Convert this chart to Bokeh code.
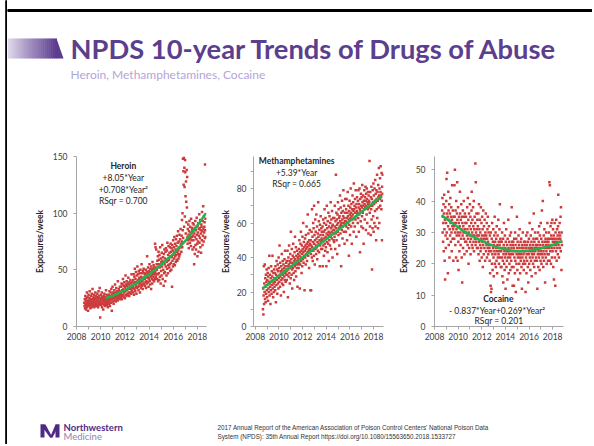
from bokeh.plotting import figure
from bokeh.layouts import row, column
from bokeh.models import Range1d, Label, FixedTicker, ColumnDataSource, Spacer
from bokeh.embed import file_html
from bokeh.resources import INLINE

# ---------------- data ----------------
START_YEAR = 2008.65
WEEK = 1 / 52

heroin = [
    21, 18, 24, 16, 27, 20, 23, 15, 19, 25, 22, 30, 17, 21, 26, 19, 14, 23, 28, 20, 22, 18, 25, 31, 19, 23, 16, 21, 27, 24, 20, 17, 29, 22, 19, 33, 24, 21, 18, 26, 23, 20, 28, 17, 22, 25, 19, 30, 24, 21, 27, 18,
    23, 20, 26, 18, 29, 22, 25, 17, 24, 31, 21, 19, 27, 23, 34, 20, 8, 25, 22, 28, 19, 24, 21, 30, 17, 26, 23, 20, 25, 15, 22, 27, 24, 19, 29, 21, 23, 26, 18, 25, 22, 32, 20, 24, 28, 21, 19, 26, 23, 17, 25, 22,
    25, 22, 28, 20, 31, 24, 18, 27, 23, 30, 26, 21, 33, 25, 14, 28, 24, 35, 22, 27, 30, 25, 20, 29, 26, 32, 23, 28, 37, 25, 30, 22, 27, 34, 26, 29, 24, 31, 28, 23, 40, 27, 30, 25, 33, 29, 26, 31, 24, 35, 28, 30,
    30, 26, 35, 28, 38, 24, 32, 27, 37, 31, 42, 28, 33, 26, 36, 30, 39, 32, 25, 35, 31, 45, 28, 37, 33, 27, 40, 32, 36, 29, 38, 33, 28, 43, 34, 30, 37, 27, 39, 33, 35, 30, 41, 34, 29, 38, 33, 46, 35, 31, 39, 34,
    36, 30, 41, 34, 46, 28, 38, 44, 33, 51, 39, 31, 42, 35, 48, 37, 29, 45, 39, 34, 53, 40, 35, 46, 41, 32, 49, 38, 43, 36, 47, 30, 41, 50, 39, 34, 44, 37, 55, 42, 36, 47, 40, 33, 49, 43, 38, 51, 42, 37, 47, 44,
    42, 36, 46, 39, 50, 34, 45, 40, 48, 38, 62, 43, 47, 39, 52, 44, 35, 49, 42, 46, 55, 40, 47, 37, 51, 44, 48, 33, 53, 45, 42, 50, 38, 57, 46, 41, 51, 44, 54, 47, 40, 52, 46, 42, 73, 48, 70, 44, 52, 68, 46, 55,
    50, 42, 58, 46, 62, 40, 55, 66, 47, 59, 41, 63, 52, 44, 70, 55, 38, 60, 49, 57, 45, 65, 53, 72, 58, 42, 61, 50, 56, 36, 64, 47, 68, 55, 48, 60, 40, 66, 53, 69, 59, 45, 57, 67, 51, 74, 58, 47, 63, 54, 71, 60,
    59, 52, 65, 55, 70, 49, 62, 73, 56, 66, 50, 69, 61, 35, 72, 58, 67, 53, 76, 63, 55, 70, 60, 79, 65, 54, 73, 62, 68, 57, 77, 63, 71, 59, 80, 66, 58, 74, 64, 84, 67, 60, 75, 69, 62, 81, 70, 64, 77, 70, 86, 73,
    72, 66, 80, 75, 94, 70, 100, 85, 148, 78, 137, 125, 149, 88, 140, 123, 97, 147, 136, 115, 82, 128, 110, 92, 138, 105, 132,
    79, 73, 86, 76, 90, 81, 69, 84, 77, 93, 80, 74, 88, 78, 83, 71, 95, 82, 76, 87, 79, 85, 68, 91, 80,
    84, 76, 90, 70, 55, 82, 87, 64, 79, 93, 72, 85, 68, 88, 77, 96, 81, 73, 62, 89, 83, 75, 91, 66, 86, 80, 99, 74, 87, 78, 94, 70, 85, 82, 65, 90, 88, 76, 101, 84, 72, 93, 80, 106, 86, 75, 97, 83, 88, 92, 78, 143,
    85, 95, 79,
]

meth = [
    10, 22, 7, 18, 35, 13, 25, 20, 36, 16, 28, 23, 14, 30, 19, 26, 33, 21, 17, 27, 24, 31, 15, 29, 22, 34, 20, 26, 41, 18, 25, 30, 23, 13, 28, 21, 35, 26, 19, 32, 24, 29, 41, 22, 27, 17, 31, 25, 20, 33, 28, 23,
    26, 31, 21, 35, 28, 14, 30, 24, 38, 27, 33, 19, 29, 36, 25, 32, 22, 40, 28, 34, 26, 47, 30, 23, 37, 29, 32, 18, 35, 27, 31, 42, 25, 33, 28, 38, 30, 24, 36, 32, 20, 34, 29, 39, 27, 44, 31, 35, 26, 33, 37, 30,
    32, 27, 38, 30, 44, 35, 17, 33, 40, 29, 36, 47, 31, 38, 25, 34, 42, 37, 28, 55, 35, 39, 30, 45, 33, 22, 37, 41, 34, 48, 36, 31, 40, 27, 38, 43, 35, 52, 39, 32, 36, 46, 29, 41, 37, 34, 44, 38, 23, 40, 36, 42,
    39, 34, 45, 37, 50, 41, 22, 43, 36, 48, 40, 55, 38, 44, 31, 47, 42, 35, 52, 45, 39, 60, 43, 37, 49, 41, 46, 21, 44, 51, 40, 47, 36, 53, 45, 42, 58, 48, 38, 46, 43, 65, 49, 41, 54, 44, 47, 34, 50, 45, 56, 48,
    45, 21, 50, 42, 21, 47, 55, 40, 68, 46, 52, 38, 49, 60, 44, 57, 41, 70, 48, 53, 36, 50, 62, 45, 55, 47, 42, 65, 51, 46, 58, 39, 49, 54, 44, 72, 52, 48, 61, 43, 56, 50, 35, 59, 47, 53, 64, 49, 45, 57, 51, 55,
    50, 45, 58, 35, 53, 62, 47, 55, 41, 60, 51, 68, 48, 56, 44, 63, 52, 46, 59, 35, 54, 70, 49, 57, 43, 61, 53, 48, 66, 55, 38, 58, 50, 64, 54, 47, 60, 52, 72, 57, 45, 62, 55, 51, 67, 58, 40, 59, 54, 63, 56, 50,
    56, 49, 63, 52, 70, 58, 45, 61, 54, 88, 57, 66, 50, 62, 59, 42, 65, 55, 72, 60, 53, 68, 57, 63, 47, 64, 58, 76, 61, 54, 69, 59, 35, 66, 60, 56, 73, 62, 51, 67, 58, 64, 79, 60, 55, 70, 63, 48, 66, 61, 74, 59,
    61, 55, 68, 58, 74, 63, 50, 66, 60, 78, 64, 57, 70, 62, 41, 67, 59, 73, 65, 53, 69, 63, 80, 66, 58, 71, 64, 48, 68, 62, 76, 65, 60, 72, 67, 55, 83, 68, 63, 70, 58, 74, 66, 62, 79, 69, 64, 52, 71, 67, 75, 65,
    66, 60, 73, 63, 79, 69, 55, 71, 65, 80, 68, 43, 74, 67, 61, 77, 70, 58, 75, 69, 64, 82, 72, 66, 57, 76, 70, 48, 73, 68, 79, 71, 62, 75, 69, 81, 73, 56, 77, 70, 65, 80, 74, 60, 72, 68, 78, 71, 54, 76, 73, 69,
    72, 96, 66, 58, 78, 70, 53, 75, 68, 81, 62, 74, 33, 70, 57, 79, 72, 64, 83, 55, 76, 71, 60, 80, 73, 67, 85, 58, 77, 72, 50, 79, 74, 68, 88, 63, 78, 73, 57, 82, 75, 69, 92, 76, 60, 80, 74, 86, 70, 78, 93, 75,
    76, 68, 89, 73, 50, 81, 77, 88,
]

cocaine = [
    37, 41, 30, 35, 27, 33, 39, 24, 36, 42, 31, 21, 34, 15, 38, 29, 25, 33, 40, 47, 30, 36, 49, 28, 35, 17, 32, 43, 37, 26, 34, 39, 22, 31, 36, 29, 41, 33, 27, 35, 38, 30, 24, 34, 45, 32, 28, 37, 31, 21, 35, 33,
    32, 28, 45, 35, 50, 30, 26, 37, 33, 22, 40, 31, 29, 36, 46, 34, 21, 30, 38, 27, 18, 33, 35, 29, 24, 32, 43, 36, 30, 26, 34, 28, 39, 31, 22, 35, 14, 33, 29, 37, 25, 32, 30, 40, 28, 35, 23, 31, 36, 27, 33, 30,
    30, 35, 27, 33, 24, 29, 38, 31, 26, 41, 28, 34, 20, 30, 36, 25, 32, 29, 39, 27, 35, 23, 31, 28, 33, 37, 43, 26, 30, 34, 25, 29, 38, 32, 27, 40, 24, 31, 29, 35, 28, 33, 52, 26, 46, 30, 27, 36, 31, 25, 29, 34,
    28, 32, 25, 36, 23, 29, 39, 27, 31, 21, 34, 26, 30, 24, 38, 28, 25, 33, 22, 29, 35, 27, 31, 19, 26, 37, 28, 23, 32, 29, 25, 34, 27, 21, 30, 28, 36, 24, 29, 26, 33, 22, 28, 31, 25, 35, 27, 23, 30, 26, 32, 24,
    25, 21, 29, 17, 26, 13, 30, 11, 24, 12, 28, 20, 33, 23, 18, 27, 25, 31, 22, 16, 26, 29, 24, 35, 20, 27, 23, 30, 19, 25, 28, 21, 32, 24, 17, 26, 29, 22, 25, 34, 23, 27, 20, 24, 31, 26, 39, 22, 28, 25, 19, 27,
    24, 19, 27, 22, 30, 16, 25, 21, 28, 14, 23, 26, 33, 20, 24, 18, 29, 22, 25, 12, 27, 23, 31, 19, 24, 21, 26, 15, 28, 24, 22, 34, 25, 17, 23, 27, 20, 24, 29, 22, 18, 26, 23, 30, 21, 25, 38, 19, 27, 24, 13, 26,
    23, 27, 19, 25, 13, 28, 22, 24, 17, 30, 21, 26, 11, 24, 28, 20, 23, 35, 25, 18, 27, 22, 24, 15, 29, 23, 26, 20, 25, 31, 22, 17, 24, 27, 21, 23, 28, 19, 25, 12, 26, 22, 24, 30, 20, 25, 23, 18, 27, 21, 24, 26,
    24, 20, 27, 11, 25, 22, 29, 17, 23, 26, 21, 30, 24, 19, 27, 14, 25, 23, 28, 20, 24, 33, 22, 26, 18, 25, 29, 21, 24, 27, 16, 23, 25, 31, 22, 26, 20, 24, 28, 36, 23, 19, 27, 25, 21, 30, 24, 17, 26, 22, 28, 25,
    25, 21, 28, 12, 26, 23, 30, 19, 24, 27, 22, 32, 25, 18, 29, 23, 26, 21, 33, 24, 28, 20, 25, 37, 23, 27, 22, 40, 26, 19, 24, 29, 21, 25, 31, 23, 27, 14, 25, 28, 22, 26, 30, 24, 20, 27, 25, 33, 23, 28, 21, 26,
    27, 23, 30, 25, 46, 21, 45, 28, 24, 32, 26, 20, 29, 33, 25, 22, 28, 34, 24, 27, 31, 19, 26, 29, 15, 28, 25, 33, 22, 27, 13, 30, 26, 24, 34, 28, 21, 27, 31, 25, 29, 23, 32, 42, 26, 28, 22, 30, 27, 33, 25, 29,
    28, 35, 24, 38, 27, 18, 30, 26,
]

heroin_fit_year = [2010.4, 2011, 2012, 2013, 2014, 2015, 2016, 2017, 2018, 2018.7]
heroin_fit_value = [25, 27, 32, 38.5, 46, 54.5, 64, 75.5, 89, 100]
meth_fit_year = [2008.6, 2018.7]
meth_fit_value = [22, 75.5]
cocaine_fit_year = [2008.6, 2009.5, 2010.5, 2011.5, 2012.5, 2013.5, 2014.5, 2015.2, 2016, 2017, 2018, 2018.8]
cocaine_fit_value = [35.5, 33, 30.3, 28.2, 26.4, 25, 24.2, 24, 24.2, 24.9, 26, 27.2]

year_ticks = [2008, 2010, 2012, 2014, 2016, 2018]
year_minor = [2009, 2011, 2013, 2015, 2017]

TITLE = "NPDS 10-year Trends of Drugs of Abuse"
SUBTITLE = "Heroin, Methamphetamines, Cocaine"
REF1 = "2017 Annual Report of the American Association of Poison Control Centers' National Poison Data"
REF2 = "System (NPDS): 35th Annual Report https://doi.org/10.1080/15563650.2018.1533727"

# ---------------- styles ----------------
RED = "#cc3c3c"
GREEN = "#22b24c"
FONT = "Lato"
AXIS_GREY = "#a6a6a6"
X0, X1 = 7, 592          # page x extent of the slide content column


def weeks(vals):
    return [START_YEAR + i * WEEK for i in range(len(vals))]


def bare(fig):
    fig.xgrid.visible = False
    fig.ygrid.visible = False
    fig.outline_line_color = None
    fig.background_fill_color = "white"
    fig.border_fill_color = "white"


def panel(vals, fit_x, fit_y, width, bl, bt, br, bb, xr, yr, yticks, yminor,
          tick_standoff, label_standoff):
    p = figure(width=width, height=230, x_range=Range1d(*xr), y_range=Range1d(*yr),
               output_backend="svg", toolbar_location=None, title=None,
               min_border_left=bl, min_border_top=bt, min_border_right=br,
               min_border_bottom=bb)
    bare(p)
    p.xaxis.ticker = FixedTicker(ticks=year_ticks, minor_ticks=year_minor)
    p.yaxis.ticker = FixedTicker(ticks=yticks, minor_ticks=yminor)
    for ax in (p.xaxis[0], p.yaxis[0]):
        ax.axis_line_color = AXIS_GREY
        ax.major_tick_line_color = AXIS_GREY
        ax.minor_tick_line_color = AXIS_GREY
        ax.major_tick_out = 3
        ax.major_tick_in = 0
        ax.minor_tick_out = 3
        ax.minor_tick_in = 0
        ax.major_label_text_font = FONT
        ax.major_label_text_font_size = "8.5px"
        ax.major_label_text_color = "#404040"
    p.xaxis.major_label_standoff = 3
    p.yaxis.major_label_standoff = tick_standoff
    p.yaxis.axis_label = "Exposures/week"
    p.yaxis.axis_label_text_font = FONT
    p.yaxis.axis_label_text_font_style = "bold"
    p.yaxis.axis_label_text_font_size = "8.5px"
    p.yaxis.axis_label_text_color = "#262626"
    p.yaxis.axis_label_standoff = label_standoff
    src = ColumnDataSource(dict(x=weeks(vals), y=vals))
    p.scatter("x", "y", source=src, marker="square", size=2.5, fill_color=RED,
              line_color=None)
    p.line(fit_x, fit_y, line_color=GREEN, line_width=2.5)
    return p


def note(p, x, y, text, bold=False, size="8.5px"):
    p.add_layout(Label(x=x, y=y, text=text, text_align="center", text_baseline="middle",
                       text_font=FONT, text_font_size=size,
                       text_font_style="bold" if bold else "normal",
                       text_color="#262626"))


p1 = panel(heroin, heroin_fit_year, heroin_fit_value, 208, 69, 26, 9, 29,
           (2008, 2018.75), (0, 150), [0, 50, 100, 150], [], 6, 5)
note(p1, 2011.87, 141.4, "Heroin", bold=True)
note(p1, 2011.87, 130.8, "+8.05*Year")
note(p1, 2011.87, 120.8, "+0.708*Year\u00b2")
note(p1, 2011.87, 110.3, "RSqr = 0.700")

p2 = panel(meth, meth_fit_year, meth_fit_value, 180, 38, 20, 12, 34,
           (2007.85, 2018.85), (0, 98.6), [0, 20, 40, 60, 80], [10, 30, 50, 70, 90], 4, 3)
note(p2, 2011.5, 95.9, "Methamphetamines", bold=True)
note(p2, 2011.5, 89.3, "+5.39*Year")
note(p2, 2011.5, 82.8, "RSqr = 0.665")

p3 = panel(cocaine, cocaine_fit_year, cocaine_fit_value, 197, 36, 10, 29, 31,
           (2008, 2018.92), (0, 54.2), [0, 10, 20, 30, 40, 50], [], 6, 4)
note(p3, 2013.4, 8.9, "Cocaine", bold=True)
note(p3, 2013.3, 5.07, "- 0.837*Year+0.269*Year\u00b2")
note(p3, 2013.45, 1.7, "RSqr = 0.201")

# ---------------- header (page pixel coordinates) ----------------
hdr = figure(width=X1 - X0, height=130, x_range=Range1d(X0, X1), y_range=Range1d(130, 0),
             output_backend="svg", toolbar_location=None, title=None,
             x_axis_location=None, y_axis_location=None, min_border=0)
bare(hdr)
hdr.quad(left=[X0], right=[X1], top=[9], bottom=[11], color="black")
light = (222, 216, 234)
dark = (92, 60, 142)
n = 24
xa0, xa1 = 7.0, 56.0
for i in range(n):
    t = i / (n - 1)
    c = tuple(int(light[k] + (dark[k] - light[k]) * t) for k in range(3))
    xa = xa0 + (xa1 - xa0) * i / n
    xb = xa0 + (xa1 - xa0) * (i + 1) / n + 0.5
    hdr.quad(left=[xa], right=[xb], top=[38], bottom=[58],
             color="#%02x%02x%02x" % c, line_color=None)
hdr.patch([56, 63, 56], [38, 58, 58], color="#5c3c8e", line_color=None)
hdr.add_layout(Label(x=70, y=48, text=TITLE, text_baseline="middle", text_font=FONT,
                     text_font_style="bold", text_font_size="27.3px", text_color="#5b3e8e"))
hdr.add_layout(Label(x=70, y=74, text=SUBTITLE, text_baseline="middle", text_font=FONT,
                     text_font_size="12px", text_color="#b2a6d6"))

# ---------------- footer ----------------
ftr = figure(width=X1 - X0, height=84, x_range=Range1d(X0, X1), y_range=Range1d(444, 360),
             output_backend="svg", toolbar_location=None, title=None,
             x_axis_location=None, y_axis_location=None, min_border=0)
bare(ftr)
LOGO = "#4e2a84"
ftr.patch([40, 44, 44, 40], [424, 424, 437, 437], color=LOGO, line_color=None)
ftr.patch([40, 45, 52, 49.5], [424, 424, 437, 437], color=LOGO, line_color=None)
ftr.patch([49.5, 52, 59, 55], [437, 437, 424, 424], color=LOGO, line_color=None)
ftr.patch([55, 59, 59, 55], [424, 424, 437, 437], color=LOGO, line_color=None)
ftr.add_layout(Label(x=63, y=427, text="Northwestern", text_baseline="middle", text_font=FONT,
                     text_font_style="bold", text_font_size="9.5px", text_color=LOGO))
ftr.add_layout(Label(x=63, y=435.5, text="Medicine", text_baseline="middle", text_font=FONT,
                     text_font_size="9.5px", text_color="#8f84ad"))
ftr.add_layout(Label(x=217, y=427, text=REF1, text_baseline="middle",
                     text_font="Liberation Sans", text_font_size="6.3px", text_color="#333333"))
ftr.add_layout(Label(x=217, y=435.5, text=REF2, text_baseline="middle",
                     text_font="Liberation Sans", text_font_size="6.3px", text_color="#333333"))

# ---------------- left border ----------------
edge = figure(width=2, height=444, x_range=Range1d(0, 1), y_range=Range1d(0, 1),
              output_backend="svg", toolbar_location=None, title=None,
              x_axis_location=None, y_axis_location=None, min_border=0)
edge.xgrid.visible = False
edge.ygrid.visible = False
edge.outline_line_color = None
edge.background_fill_color = "black"
edge.border_fill_color = "black"
edge.quad(left=[0], right=[1], top=[1], bottom=[0], color="black")

layout = row(Spacer(width=5, height=444), edge, column(hdr, row(p1, p2, p3), ftr))
open("out.html", "w").write(file_html(layout, INLINE))
